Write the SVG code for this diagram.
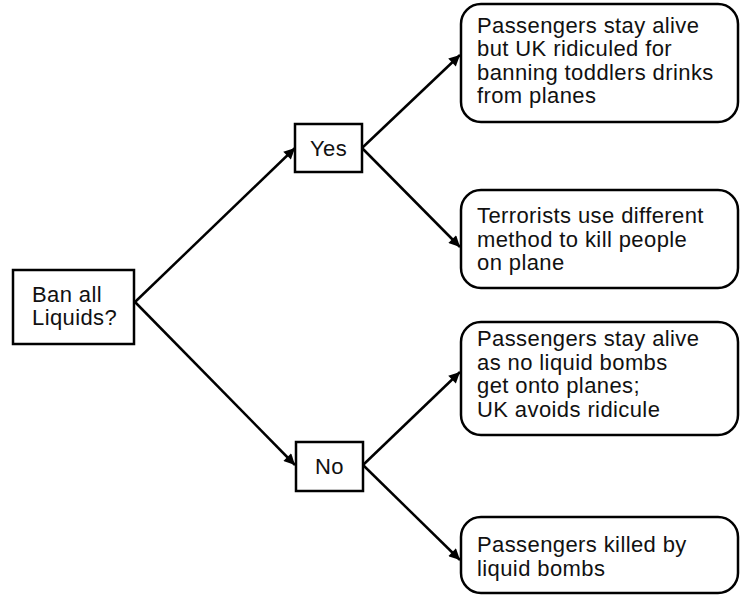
<svg xmlns="http://www.w3.org/2000/svg" width="741" height="595" viewBox="0 0 741 595">
<style>
.box{fill:#fff;stroke:#000;stroke-width:2.5}
.t{font-family:"Liberation Sans",Arial,sans-serif;font-size:22px;letter-spacing:0.4px;fill:#111}
.c{stroke:#000;stroke-width:2.5;fill:none;marker-end:url(#ah)}
</style>
<defs>
<marker id="ah" viewBox="0 0 10 10" refX="10" refY="5" markerWidth="6" markerHeight="4.4" orient="auto" markerUnits="strokeWidth">
<path d="M0,0 L10,5 L0,10 z" fill="#000"/>
</marker>
</defs>
<rect width="741" height="595" fill="#fff"/>
<g id="connectors">
<line class="c" x1="135" y1="302" x2="295" y2="148"/>
<line class="c" x1="135" y1="302" x2="295" y2="465"/>
<line class="c" x1="362" y1="148" x2="460" y2="55"/>
<line class="c" x1="362" y1="148" x2="460" y2="247"/>
<line class="c" x1="363" y1="465" x2="460" y2="372"/>
<line class="c" x1="363" y1="465" x2="460" y2="560"/>
</g>
<g id="ban">
<rect class="box" x="13" y="270" width="121" height="74"/>
<text class="t" x="32" y="302">Ban all</text>
<text class="t" x="32" y="325">Liquids?</text>
</g>
<g id="yes">
<rect class="box" x="295" y="124" width="67" height="48"/>
<text class="t" x="328.5" y="156" text-anchor="middle">Yes</text>
</g>
<g id="no">
<rect class="box" x="296" y="442" width="67" height="49"/>
<text class="t" x="329.5" y="474" text-anchor="middle">No</text>
</g>
<g id="out1">
<rect class="box" x="461" y="4" width="277" height="118" rx="20"/>
<text class="t" x="477" y="33">Passengers stay alive</text>
<text class="t" x="477" y="56">but UK ridiculed for</text>
<text class="t" x="477" y="79.5">banning toddlers drinks</text>
<text class="t" x="477" y="103">from planes</text>
</g>
<g id="out2">
<rect class="box" x="461" y="190" width="277" height="98" rx="20"/>
<text class="t" x="477" y="223">Terrorists use different</text>
<text class="t" x="477" y="246.5">method to kill people</text>
<text class="t" x="477" y="270">on plane</text>
</g>
<g id="out3">
<rect class="box" x="461" y="322" width="277" height="113" rx="20"/>
<text class="t" x="477" y="346">Passengers stay alive</text>
<text class="t" x="477" y="369.5">as no liquid bombs</text>
<text class="t" x="477" y="393">get onto planes;</text>
<text class="t" x="477" y="416.5">UK avoids ridicule</text>
</g>
<g id="out4">
<rect class="box" x="461" y="517" width="277" height="76" rx="20"/>
<text class="t" x="477" y="552">Passengers killed by</text>
<text class="t" x="477" y="575.5">liquid bombs</text>
</g>
</svg>
